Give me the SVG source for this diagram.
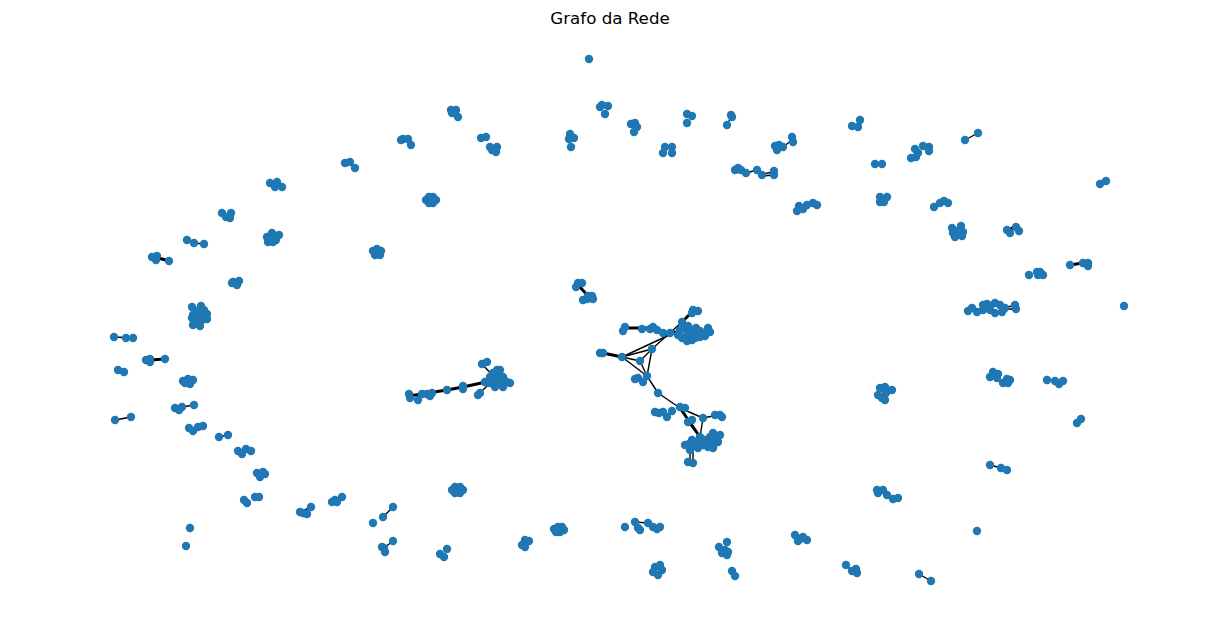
<svg xmlns="http://www.w3.org/2000/svg" width="1220" height="642" viewBox="0 0 1220 642">
<style>
.n circle{fill:#1f77b4}
#edges line{stroke:#000;stroke-width:1.4;stroke-linecap:round}
#edges line.t{stroke-width:3}
.title{font-family:"DejaVu Sans",sans-serif;font-size:16.7px;fill:#000}
</style>
<rect width="1220" height="642" fill="#fff"/>
<text class="title" x="610" y="24" text-anchor="middle">Grafo da Rede</text>
<g id="edges">
<line x1="409" y1="396" x2="447" y2="390" class="t"/>
<line x1="447" y1="390" x2="463" y2="387" class="t"/>
<line x1="463" y1="387" x2="495" y2="380" class="t"/>
<line x1="482" y1="364" x2="495" y2="378"/>
<line x1="480" y1="393" x2="490" y2="383"/>
<line x1="578" y1="285" x2="590" y2="298" class="t"/>
<line x1="603" y1="353" x2="622" y2="357" class="t"/>
<line x1="625" y1="328" x2="653" y2="328" class="t"/>
<line x1="622" y1="357" x2="652" y2="349"/>
<line x1="622" y1="357" x2="640" y2="361"/>
<line x1="622" y1="357" x2="647" y2="376"/>
<line x1="652" y1="349" x2="647" y2="376"/>
<line x1="652" y1="349" x2="640" y2="361"/>
<line x1="640" y1="361" x2="647" y2="376"/>
<line x1="652" y1="349" x2="682" y2="322"/>
<line x1="622" y1="357" x2="680" y2="330"/>
<line x1="682" y1="322" x2="693" y2="311" class="t"/>
<line x1="663" y1="333" x2="685" y2="330"/>
<line x1="647" y1="376" x2="658" y2="393"/>
<line x1="658" y1="393" x2="680" y2="408"/>
<line x1="680" y1="408" x2="703" y2="418"/>
<line x1="703" y1="418" x2="718" y2="415"/>
<line x1="680" y1="408" x2="700" y2="437" class="t"/>
<line x1="703" y1="418" x2="700" y2="437"/>
<line x1="688" y1="422" x2="700" y2="437"/>
<line x1="690" y1="450" x2="690" y2="462"/>
<line x1="693" y1="450" x2="693" y2="462"/>
<line x1="155" y1="257" x2="169" y2="261" class="t"/>
<line x1="114" y1="337" x2="133" y2="338"/>
<line x1="150" y1="360" x2="165" y2="359" class="t"/>
<line x1="115" y1="420" x2="131" y2="417"/>
<line x1="182" y1="407" x2="194" y2="405"/>
<line x1="965" y1="140" x2="978" y2="133"/>
<line x1="1070" y1="265" x2="1083" y2="263" class="t"/>
<line x1="990" y1="465" x2="1001" y2="468"/>
<line x1="919" y1="574" x2="931" y2="581"/>
<line x1="383" y1="517" x2="393" y2="507"/>
<line x1="384" y1="548" x2="393" y2="541"/>
<line x1="783" y1="147" x2="792" y2="140"/>
<line x1="746" y1="173" x2="757" y2="170"/>
<line x1="762" y1="174" x2="774" y2="172"/>
<line x1="762" y1="176" x2="774" y2="175"/>
<line x1="1005" y1="307" x2="1015" y2="306"/>
<line x1="1005" y1="309" x2="1015" y2="309"/>
<line x1="727" y1="125" x2="731" y2="117"/>
<line x1="635" y1="522" x2="648" y2="523"/>
<line x1="300" y1="512" x2="311" y2="507"/>
<line x1="887" y1="495" x2="893" y2="499"/>
<line x1="846" y1="565" x2="852" y2="571"/>
<line x1="1007" y1="230" x2="1016" y2="227" class="t"/>
<line x1="194" y1="243" x2="204" y2="244"/>
<line x1="219" y1="437" x2="228" y2="435"/>
</g>
<g id="c1" class="n"><circle cx="589" cy="59" r="4.2"/></g>
<g id="c2" class="n"><circle cx="600" cy="107" r="4.2"/><circle cx="602" cy="105" r="4.2"/><circle cx="608" cy="106" r="4.2"/><circle cx="605" cy="114" r="4.2"/></g>
<g id="c4" class="n"><circle cx="451" cy="110" r="4.2"/><circle cx="456" cy="110" r="4.2"/><circle cx="452" cy="113" r="4.2"/><circle cx="458" cy="117" r="4.2"/></g>
<g id="c5" class="n"><circle cx="401" cy="140" r="4.2"/><circle cx="403" cy="139" r="4.2"/><circle cx="408" cy="139" r="4.2"/><circle cx="411" cy="145" r="4.2"/></g>
<g id="c6" class="n"><circle cx="481" cy="138" r="4.2"/><circle cx="486" cy="137" r="4.2"/><circle cx="490" cy="147" r="4.2"/><circle cx="497" cy="147" r="4.2"/><circle cx="496" cy="152" r="4.2"/><circle cx="492" cy="150" r="4.2"/></g>
<g id="c7" class="n"><circle cx="570" cy="134" r="4.2"/><circle cx="569" cy="139" r="4.2"/><circle cx="574" cy="138" r="4.2"/><circle cx="571" cy="147" r="4.2"/></g>
<g id="c8" class="n"><circle cx="631" cy="124" r="4.2"/><circle cx="635" cy="123" r="4.2"/><circle cx="637" cy="127" r="4.2"/><circle cx="634" cy="132" r="4.2"/></g>
<g id="c9" class="n"><circle cx="426" cy="200" r="4.2"/><circle cx="429" cy="197" r="4.2"/><circle cx="433" cy="197" r="4.2"/><circle cx="436" cy="200" r="4.2"/><circle cx="429" cy="203" r="4.2"/><circle cx="433" cy="203" r="4.2"/><circle cx="431" cy="200" r="4.2"/></g>
<g id="c10" class="n"><circle cx="687" cy="114" r="4.2"/><circle cx="692" cy="116" r="4.2"/><circle cx="687" cy="123" r="4.2"/></g>
<g id="c11" class="n"><circle cx="731" cy="115" r="4.2"/><circle cx="732" cy="117" r="4.2"/><circle cx="727" cy="125" r="4.2"/></g>
<g id="c12" class="n"><circle cx="665" cy="147" r="4.2"/><circle cx="672" cy="147" r="4.2"/><circle cx="663" cy="153" r="4.2"/><circle cx="672" cy="153" r="4.2"/></g>
<g id="c13" class="n"><circle cx="860" cy="120" r="4.2"/><circle cx="852" cy="126" r="4.2"/><circle cx="858" cy="127" r="4.2"/></g>
<g id="c14" class="n"><circle cx="792" cy="137" r="4.2"/><circle cx="793" cy="142" r="4.2"/><circle cx="775" cy="146" r="4.2"/><circle cx="779" cy="145" r="4.2"/><circle cx="783" cy="147" r="4.2"/><circle cx="777" cy="150" r="4.2"/></g>
<g id="c15" class="n"><circle cx="875" cy="164" r="4.2"/><circle cx="882" cy="164" r="4.2"/></g>
<g id="c16" class="n"><circle cx="915" cy="149" r="4.2"/><circle cx="923" cy="146" r="4.2"/><circle cx="929" cy="147" r="4.2"/><circle cx="929" cy="151" r="4.2"/><circle cx="918" cy="153" r="4.2"/><circle cx="911" cy="158" r="4.2"/><circle cx="916" cy="157" r="4.2"/></g>
<g id="c17" class="n"><circle cx="738" cy="168" r="4.2"/><circle cx="735" cy="170" r="4.2"/><circle cx="741" cy="170" r="4.2"/><circle cx="746" cy="173" r="4.2"/><circle cx="757" cy="170" r="4.2"/><circle cx="762" cy="175" r="4.2"/><circle cx="774" cy="171" r="4.2"/><circle cx="774" cy="175" r="4.2"/></g>
<g id="c18" class="n"><circle cx="813" cy="203" r="4.2"/><circle cx="817" cy="205" r="4.2"/><circle cx="807" cy="205" r="4.2"/><circle cx="799" cy="206" r="4.2"/><circle cx="797" cy="211" r="4.2"/><circle cx="803" cy="209" r="4.2"/></g>
<g id="c19" class="n"><circle cx="880" cy="197" r="4.2"/><circle cx="887" cy="197" r="4.2"/><circle cx="880" cy="202" r="4.2"/><circle cx="884" cy="202" r="4.2"/></g>
<g id="c20" class="n"><circle cx="934" cy="207" r="4.2"/><circle cx="940" cy="203" r="4.2"/><circle cx="944" cy="201" r="4.2"/><circle cx="948" cy="203" r="4.2"/></g>
<g id="c21" class="n"><circle cx="965" cy="140" r="4.2"/><circle cx="978" cy="133" r="4.2"/></g>
<g id="c22" class="n"><circle cx="1100" cy="184" r="4.2"/><circle cx="1106" cy="181" r="4.2"/></g>
<g id="c23" class="n"><circle cx="952" cy="228" r="4.2"/><circle cx="961" cy="226" r="4.2"/><circle cx="963" cy="232" r="4.2"/><circle cx="953" cy="233" r="4.2"/><circle cx="958" cy="231" r="4.2"/><circle cx="962" cy="236" r="4.2"/><circle cx="955" cy="237" r="4.2"/></g>
<g id="c24" class="n"><circle cx="1007" cy="230" r="4.2"/><circle cx="1010" cy="233" r="4.2"/><circle cx="1016" cy="227" r="4.2"/><circle cx="1019" cy="231" r="4.2"/></g>
<g id="c26" class="n"><circle cx="1029" cy="275" r="4.2"/><circle cx="1037" cy="272" r="4.2"/><circle cx="1040" cy="272" r="4.2"/><circle cx="1043" cy="275" r="4.2"/><circle cx="1038" cy="275" r="4.2"/></g>
<g id="c27" class="n"><circle cx="1070" cy="265" r="4.2"/><circle cx="1083" cy="263" r="4.2"/><circle cx="1088" cy="263" r="4.2"/><circle cx="1088" cy="266" r="4.2"/></g>
<g id="c28" class="n"><circle cx="1124" cy="306" r="4.2"/></g>
<g id="c29" class="n"><circle cx="968" cy="311" r="4.2"/><circle cx="972" cy="308" r="4.2"/><circle cx="977" cy="312" r="4.2"/><circle cx="983" cy="305" r="4.2"/><circle cx="987" cy="304" r="4.2"/><circle cx="983" cy="310" r="4.2"/><circle cx="990" cy="310" r="4.2"/><circle cx="995" cy="303" r="4.2"/><circle cx="1000" cy="305" r="4.2"/><circle cx="995" cy="313" r="4.2"/><circle cx="1002" cy="312" r="4.2"/><circle cx="1005" cy="308" r="4.2"/><circle cx="990" cy="306" r="4.2"/><circle cx="1015" cy="305" r="4.2"/><circle cx="1016" cy="309" r="4.2"/></g>
<g id="c30" class="n"><circle cx="993" cy="372" r="4.2"/><circle cx="990" cy="377" r="4.2"/><circle cx="998" cy="374" r="4.2"/><circle cx="997" cy="378" r="4.2"/><circle cx="1007" cy="379" r="4.2"/><circle cx="1010" cy="380" r="4.2"/><circle cx="1003" cy="383" r="4.2"/><circle cx="1008" cy="383" r="4.2"/></g>
<g id="c31" class="n"><circle cx="1047" cy="380" r="4.2"/><circle cx="1055" cy="381" r="4.2"/><circle cx="1059" cy="384" r="4.2"/><circle cx="1063" cy="381" r="4.2"/></g>
<g id="c32" class="n"><circle cx="1077" cy="423" r="4.2"/><circle cx="1081" cy="419" r="4.2"/></g>
<g id="c33" class="n"><circle cx="990" cy="465" r="4.2"/><circle cx="1001" cy="468" r="4.2"/><circle cx="1007" cy="470" r="4.2"/></g>
<g id="c34" class="n"><circle cx="977" cy="531" r="4.2"/></g>
<g id="c36" class="n"><circle cx="877" cy="490" r="4.2"/><circle cx="883" cy="490" r="4.2"/><circle cx="878" cy="493" r="4.2"/><circle cx="887" cy="495" r="4.2"/><circle cx="893" cy="499" r="4.2"/><circle cx="898" cy="498" r="4.2"/></g>
<g id="c37" class="n"><circle cx="795" cy="535" r="4.2"/><circle cx="800" cy="539" r="4.2"/><circle cx="803" cy="537" r="4.2"/><circle cx="807" cy="540" r="4.2"/><circle cx="798" cy="541" r="4.2"/></g>
<g id="c38" class="n"><circle cx="727" cy="542" r="4.2"/><circle cx="719" cy="547" r="4.2"/><circle cx="725" cy="550" r="4.2"/><circle cx="722" cy="553" r="4.2"/><circle cx="727" cy="555" r="4.2"/><circle cx="728" cy="552" r="4.2"/></g>
<g id="c39" class="n"><circle cx="732" cy="571" r="4.2"/><circle cx="735" cy="576" r="4.2"/></g>
<g id="c40" class="n"><circle cx="846" cy="565" r="4.2"/><circle cx="852" cy="571" r="4.2"/><circle cx="856" cy="569" r="4.2"/><circle cx="857" cy="573" r="4.2"/></g>
<g id="c41" class="n"><circle cx="919" cy="574" r="4.2"/><circle cx="931" cy="581" r="4.2"/></g>
<g id="c43" class="n"><circle cx="452" cy="490" r="4.2"/><circle cx="455" cy="487" r="4.2"/><circle cx="460" cy="487" r="4.2"/><circle cx="463" cy="490" r="4.2"/><circle cx="455" cy="493" r="4.2"/><circle cx="460" cy="493" r="4.2"/><circle cx="457" cy="490" r="4.2"/></g>
<g id="c44" class="n"><circle cx="393" cy="507" r="4.2"/><circle cx="383" cy="517" r="4.2"/><circle cx="373" cy="523" r="4.2"/></g>
<g id="c45" class="n"><circle cx="393" cy="541" r="4.2"/><circle cx="382" cy="547" r="4.2"/><circle cx="384" cy="548" r="4.2"/><circle cx="385" cy="552" r="4.2"/></g>
<g id="c46" class="n"><circle cx="447" cy="549" r="4.2"/><circle cx="440" cy="554" r="4.2"/><circle cx="444" cy="557" r="4.2"/></g>
<g id="c47" class="n"><circle cx="525" cy="540" r="4.2"/><circle cx="529" cy="541" r="4.2"/><circle cx="522" cy="545" r="4.2"/><circle cx="525" cy="547" r="4.2"/></g>
<g id="c48" class="n"><circle cx="554" cy="529" r="4.2"/><circle cx="558" cy="527" r="4.2"/><circle cx="562" cy="527" r="4.2"/><circle cx="556" cy="532" r="4.2"/><circle cx="560" cy="532" r="4.2"/><circle cx="564" cy="530" r="4.2"/></g>
<g id="c49" class="n"><circle cx="625" cy="527" r="4.2"/><circle cx="635" cy="522" r="4.2"/><circle cx="648" cy="523" r="4.2"/><circle cx="638" cy="528" r="4.2"/><circle cx="640" cy="530" r="4.2"/><circle cx="653" cy="527" r="4.2"/><circle cx="657" cy="529" r="4.2"/><circle cx="660" cy="527" r="4.2"/></g>
<g id="c50" class="n"><circle cx="660" cy="565" r="4.2"/><circle cx="655" cy="567" r="4.2"/><circle cx="653" cy="572" r="4.2"/><circle cx="658" cy="575" r="4.2"/><circle cx="662" cy="570" r="4.2"/></g>
<g id="c51" class="n"><circle cx="238" cy="451" r="4.2"/><circle cx="246" cy="449" r="4.2"/><circle cx="251" cy="451" r="4.2"/><circle cx="242" cy="454" r="4.2"/></g>
<g id="c52" class="n"><circle cx="257" cy="473" r="4.2"/><circle cx="263" cy="472" r="4.2"/><circle cx="265" cy="474" r="4.2"/><circle cx="260" cy="477" r="4.2"/></g>
<g id="c53" class="n"><circle cx="244" cy="500" r="4.2"/><circle cx="247" cy="503" r="4.2"/><circle cx="255" cy="497" r="4.2"/><circle cx="259" cy="497" r="4.2"/></g>
<g id="c54a" class="n"><circle cx="190" cy="528" r="4.2"/></g>
<g id="c54b" class="n"><circle cx="186" cy="546" r="4.2"/></g>
<g id="c55" class="n"><circle cx="300" cy="512" r="4.2"/><circle cx="303" cy="513" r="4.2"/><circle cx="307" cy="514" r="4.2"/><circle cx="311" cy="507" r="4.2"/></g>
<g id="c56" class="n"><circle cx="332" cy="502" r="4.2"/><circle cx="335" cy="500" r="4.2"/><circle cx="337" cy="502" r="4.2"/><circle cx="342" cy="497" r="4.2"/></g>
<g id="c58" class="n"><circle cx="187" cy="240" r="4.2"/><circle cx="194" cy="243" r="4.2"/><circle cx="204" cy="244" r="4.2"/></g>
<g id="c59" class="n"><circle cx="152" cy="257" r="4.2"/><circle cx="157" cy="256" r="4.2"/><circle cx="156" cy="260" r="4.2"/><circle cx="169" cy="261" r="4.2"/></g>
<g id="c60" class="n"><circle cx="233" cy="282" r="4.2"/><circle cx="239" cy="281" r="4.2"/><circle cx="237" cy="285" r="4.2"/><circle cx="232" cy="283" r="4.2"/></g>
<g id="c61" class="n"><circle cx="192" cy="307" r="4.2"/><circle cx="201" cy="306" r="4.2"/><circle cx="193" cy="315" r="4.2"/><circle cx="200" cy="314" r="4.2"/><circle cx="207" cy="314" r="4.2"/><circle cx="207" cy="319" r="4.2"/><circle cx="193" cy="325" r="4.2"/><circle cx="200" cy="326" r="4.2"/><circle cx="197" cy="320" r="4.2"/><circle cx="192" cy="318" r="4.2"/><circle cx="202" cy="320" r="4.2"/><circle cx="197" cy="311" r="4.2"/><circle cx="204" cy="310" r="4.2"/></g>
<g id="c62" class="n"><circle cx="114" cy="337" r="4.2"/><circle cx="126" cy="338" r="4.2"/><circle cx="133" cy="338" r="4.2"/></g>
<g id="c63" class="n"><circle cx="146" cy="360" r="4.2"/><circle cx="150" cy="359" r="4.2"/><circle cx="150" cy="362" r="4.2"/><circle cx="165" cy="359" r="4.2"/></g>
<g id="c64" class="n"><circle cx="118" cy="370" r="4.2"/><circle cx="124" cy="372" r="4.2"/></g>
<g id="c65" class="n"><circle cx="183" cy="381" r="4.2"/><circle cx="188" cy="379" r="4.2"/><circle cx="193" cy="380" r="4.2"/><circle cx="190" cy="384" r="4.2"/><circle cx="185" cy="383" r="4.2"/></g>
<g id="c66" class="n"><circle cx="175" cy="408" r="4.2"/><circle cx="182" cy="407" r="4.2"/><circle cx="194" cy="405" r="4.2"/><circle cx="179" cy="410" r="4.2"/></g>
<g id="c67" class="n"><circle cx="115" cy="420" r="4.2"/><circle cx="131" cy="417" r="4.2"/></g>
<g id="c68" class="n"><circle cx="189" cy="428" r="4.2"/><circle cx="193" cy="431" r="4.2"/><circle cx="198" cy="427" r="4.2"/><circle cx="203" cy="426" r="4.2"/></g>
<g id="c69" class="n"><circle cx="219" cy="437" r="4.2"/><circle cx="228" cy="435" r="4.2"/></g>
<g id="c70" class="n"><circle cx="267" cy="237" r="4.2"/><circle cx="272" cy="233" r="4.2"/><circle cx="279" cy="235" r="4.2"/><circle cx="268" cy="242" r="4.2"/><circle cx="273" cy="242" r="4.2"/><circle cx="276" cy="240" r="4.2"/><circle cx="270" cy="240" r="4.2"/></g>
<g id="c71" class="n"><circle cx="373" cy="251" r="4.2"/><circle cx="377" cy="249" r="4.2"/><circle cx="381" cy="251" r="4.2"/><circle cx="375" cy="255" r="4.2"/><circle cx="380" cy="255" r="4.2"/><circle cx="377" cy="252" r="4.2"/></g>
<g id="c72" class="n"><circle cx="345" cy="163" r="4.2"/><circle cx="350" cy="162" r="4.2"/><circle cx="355" cy="168" r="4.2"/></g>
<g id="c73" class="n"><circle cx="270" cy="183" r="4.2"/><circle cx="277" cy="182" r="4.2"/><circle cx="282" cy="187" r="4.2"/><circle cx="275" cy="187" r="4.2"/></g>
<g id="c74" class="n"><circle cx="222" cy="213" r="4.2"/><circle cx="231" cy="213" r="4.2"/><circle cx="230" cy="218" r="4.2"/><circle cx="226" cy="217" r="4.2"/></g>
<g id="c75" class="n"><circle cx="409" cy="394" r="4.2"/><circle cx="410" cy="398" r="4.2"/><circle cx="418" cy="400" r="4.2"/><circle cx="422" cy="394" r="4.2"/><circle cx="427" cy="394" r="4.2"/><circle cx="432" cy="393" r="4.2"/><circle cx="430" cy="396" r="4.2"/><circle cx="447" cy="390" r="4.2"/><circle cx="463" cy="386" r="4.2"/><circle cx="463" cy="389" r="4.2"/><circle cx="482" cy="364" r="4.2"/><circle cx="487" cy="362" r="4.2"/><circle cx="480" cy="393" r="4.2"/><circle cx="478" cy="395" r="4.2"/><circle cx="490" cy="377" r="4.2"/><circle cx="500" cy="370" r="4.2"/><circle cx="497" cy="383" r="4.2"/><circle cx="507" cy="382" r="4.2"/><circle cx="510" cy="383" r="4.2"/><circle cx="503" cy="387" r="4.2"/><circle cx="495" cy="387" r="4.2"/><circle cx="490" cy="383" r="4.2"/><circle cx="485" cy="382" r="4.2"/><circle cx="498" cy="377" r="4.2"/><circle cx="493" cy="373" r="4.2"/><circle cx="503" cy="377" r="4.2"/><circle cx="500" cy="381" r="4.2"/><circle cx="505" cy="381" r="4.2"/><circle cx="495" cy="380" r="4.2"/><circle cx="497" cy="370" r="4.2"/></g>
<g id="c76" class="n"><circle cx="578" cy="283" r="4.2"/><circle cx="576" cy="287" r="4.2"/><circle cx="582" cy="283" r="4.2"/><circle cx="587" cy="299" r="4.2"/><circle cx="593" cy="299" r="4.2"/><circle cx="588" cy="296" r="4.2"/><circle cx="583" cy="300" r="4.2"/><circle cx="592" cy="296" r="4.2"/></g>
<g id="c77" class="n">
<circle cx="625" cy="327" r="4.2"/><circle cx="623" cy="331" r="4.2"/><circle cx="642" cy="329" r="4.2"/><circle cx="650" cy="329" r="4.2"/><circle cx="653" cy="327" r="4.2"/><circle cx="657" cy="330" r="4.2"/>
<circle cx="600" cy="353" r="4.2"/><circle cx="603" cy="353" r="4.2"/><circle cx="622" cy="357" r="4.2"/><circle cx="652" cy="349" r="4.2"/><circle cx="640" cy="361" r="4.2"/>
<circle cx="638" cy="378" r="4.2"/><circle cx="635" cy="379" r="4.2"/><circle cx="647" cy="376" r="4.2"/><circle cx="643" cy="382" r="4.2"/><circle cx="658" cy="393" r="4.2"/>
<circle cx="655" cy="412" r="4.2"/><circle cx="659" cy="413" r="4.2"/>
<circle cx="693" cy="310" r="4.2"/><circle cx="698" cy="311" r="4.2"/><circle cx="692" cy="313" r="4.2"/><circle cx="682" cy="322" r="4.2"/><circle cx="663" cy="333" r="4.2"/><circle cx="670" cy="333" r="4.2"/>
<circle cx="678" cy="335" r="4.2"/><circle cx="685" cy="328" r="4.2"/><circle cx="690" cy="333" r="4.2"/><circle cx="693" cy="330" r="4.2"/><circle cx="682" cy="338" r="4.2"/><circle cx="692" cy="340" r="4.2"/><circle cx="700" cy="337" r="4.2"/><circle cx="703" cy="333" r="4.2"/><circle cx="708" cy="328" r="4.2"/><circle cx="710" cy="332" r="4.2"/><circle cx="697" cy="335" r="4.2"/><circle cx="686" cy="336" r="4.2"/>
<circle cx="680" cy="330" r="4.2"/><circle cx="688" cy="326" r="4.2"/><circle cx="696" cy="328" r="4.2"/><circle cx="700" cy="331" r="4.2"/><circle cx="705" cy="336" r="4.2"/><circle cx="687" cy="341" r="4.2"/><circle cx="695" cy="338" r="4.2"/>
<circle cx="672" cy="411" r="4.2"/><circle cx="680" cy="407" r="4.2"/><circle cx="685" cy="408" r="4.2"/><circle cx="667" cy="417" r="4.2"/><circle cx="663" cy="412" r="4.2"/><circle cx="688" cy="422" r="4.2"/><circle cx="692" cy="420" r="4.2"/><circle cx="703" cy="418" r="4.2"/><circle cx="715" cy="415" r="4.2"/><circle cx="720" cy="415" r="4.2"/><circle cx="722" cy="417" r="4.2"/>
<circle cx="700" cy="437" r="4.2"/><circle cx="713" cy="433" r="4.2"/><circle cx="720" cy="435" r="4.2"/><circle cx="685" cy="445" r="4.2"/><circle cx="692" cy="440" r="4.2"/><circle cx="698" cy="448" r="4.2"/><circle cx="703" cy="445" r="4.2"/><circle cx="713" cy="448" r="4.2"/><circle cx="718" cy="442" r="4.2"/><circle cx="690" cy="450" r="4.2"/><circle cx="708" cy="442" r="4.2"/><circle cx="716" cy="438" r="4.2"/>
<circle cx="695" cy="442" r="4.2"/><circle cx="700" cy="443" r="4.2"/><circle cx="705" cy="440" r="4.2"/><circle cx="710" cy="437" r="4.2"/><circle cx="708" cy="447" r="4.2"/><circle cx="696" cy="446" r="4.2"/><circle cx="715" cy="443" r="4.2"/><circle cx="712" cy="440" r="4.2"/><circle cx="689" cy="444" r="4.2"/>
<circle cx="688" cy="462" r="4.2"/><circle cx="693" cy="463" r="4.2"/>
</g>
<g id="c78" class="n"><circle cx="880" cy="388" r="4.2"/><circle cx="885" cy="387" r="4.2"/><circle cx="892" cy="390" r="4.2"/><circle cx="882" cy="398" r="4.2"/><circle cx="885" cy="400" r="4.2"/><circle cx="878" cy="395" r="4.2"/><circle cx="886" cy="393" r="4.2"/></g>
</svg>
